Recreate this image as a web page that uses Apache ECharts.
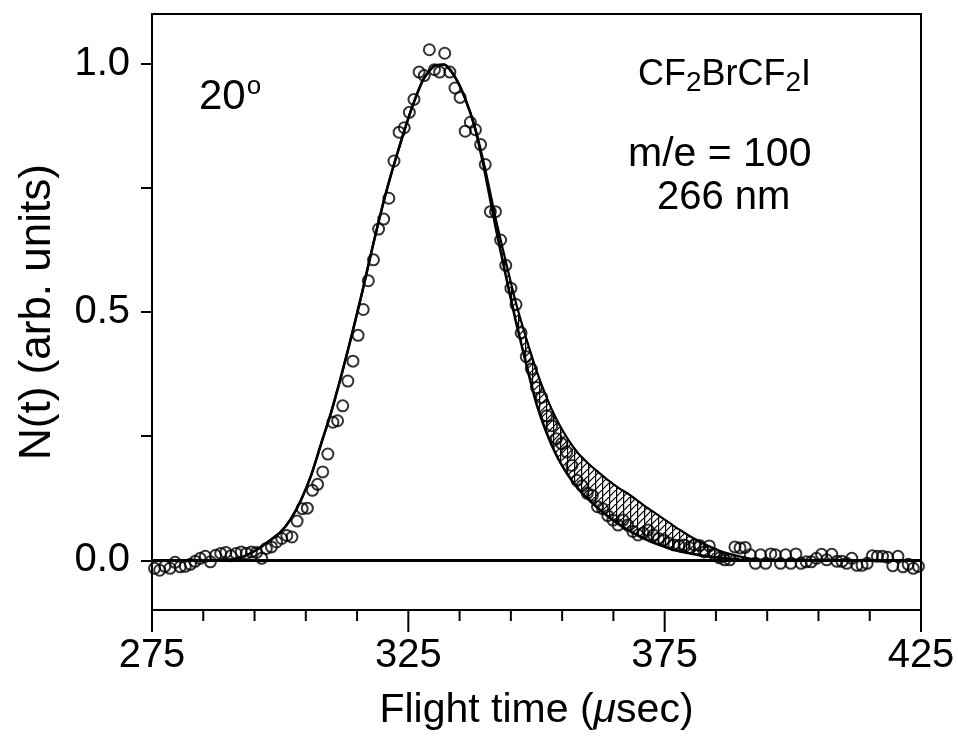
<!DOCTYPE html>
<html><head><meta charset="utf-8">
<script src="https://cdn.jsdelivr.net/npm/echarts@6/dist/echarts.min.js"></script>
<style>html,body{margin:0;padding:0;background:#fff}#c{width:958px;height:739px}</style>
</head><body><div id="c"></div>
<script>
// ---- data ----
const flightTime = [275.5,276.5,277.5,278.5,279.5,280.5,281.5,282.5,283.4,284.4,285.4,286.4,287.4,288.4,289.4,290.4,291.4,292.4,293.4,294.4,
295.4,296.4,297.3,298.3,299.3,300.3,301.3,302.3,303.3,304.3,305.3,306.3,307.3,308.3,309.3,310.3,311.2,312.2,313.2,314.2,
315.2,316.2,317.2,318.2,319.2,320.2,321.2,322.2,323.2,324.2,325.2,326.1,327.1,328.1,329.1,330.1,331.1,332.1,333.1,334.1,
335.1,336.1,337.1,338.1,339.1,340.0,341.0,342.0,343.0,344.0,345.0,346.0,347.0,348.0,349.0,350.0,351.0,352.0,353.0,353.9,
354.9,355.9,356.9,357.9,358.9,359.9,360.9,361.9,362.9,363.9,364.9,365.9,366.9,367.8,368.8,369.8,370.8,371.8,372.8,373.8,
374.8,375.8,376.8,377.8,378.8,379.8,380.8,381.8,382.7,383.7,384.7,385.7,386.7,387.7,388.7,389.7,390.7,391.7,392.7,393.7,
394.7,395.7,396.6,397.6,398.6,399.6,400.6,401.6,402.6,403.6,404.6,405.6,406.6,407.6,408.6,409.6,410.5,411.5,412.5,413.5,
414.5,415.5,416.5,417.5,418.5,419.5,420.5,421.5,422.5,423.5,424.5];
const signal = [-0.016,-0.020,-0.012,-0.016,-0.004,-0.013,-0.012,-0.008,-0.002,0.004,0.008,-0.003,0.010,0.014,0.016,0.009,0.014,0.017,0.014,0.017,
0.016,0.004,0.024,0.027,0.037,0.044,0.050,0.047,0.079,0.104,0.105,0.141,0.153,0.178,0.214,0.278,0.281,0.311,0.361,0.401,
0.453,0.505,0.563,0.605,0.667,0.687,0.729,0.804,0.862,0.871,0.902,0.928,0.983,0.976,1.028,0.988,0.983,1.021,0.983,0.951,
0.932,0.864,0.882,0.867,0.837,0.797,0.702,0.702,0.645,0.594,0.548,0.515,0.458,0.410,0.385,0.348,0.328,0.291,0.271,0.245,
0.235,0.218,0.191,0.161,0.150,0.135,0.131,0.108,0.104,0.090,0.081,0.071,0.081,0.071,0.058,0.051,0.055,0.061,0.051,0.044,
0.041,0.035,0.031,0.030,0.031,0.026,0.031,0.030,0.017,0.029,0.012,0.005,0.001,0.001,0.027,0.025,0.026,0.011,-0.006,0.011,
-0.006,0.013,0.011,-0.006,0.011,-0.006,0.013,-0.006,-0.003,-0.003,0.004,0.012,0.001,0.012,-0.002,-0.002,-0.006,0.004,-0.010,-0.010,
-0.006,0.009,0.008,0.008,0.006,-0.011,0.008,-0.013,-0.008,-0.016,-0.012];

const fitTime = [286,288,290,292,294,296,298,300,302,304,306,308,310,312,314,316,318,320,322,324,326,328,330,332,334,336,338,
340,342,344,346,348,350,352,354,356,358,360,362,364,366,368,370,372,374,376,378,380,382,384,386,388,390,392,394,396,398,400];
const fitFast = [0,0,0.001,0.004,0.013,0.025,0.040,0.056,0.082,0.120,0.170,0.235,0.300,0.375,0.455,0.540,0.630,0.715,0.790,0.858,0.920,0.970,0.995,0.998,0.975,0.932,0.870,
0.778,0.672,0.574,0.480,0.395,0.315,0.256,0.209,0.174,0.146,0.124,0.105,0.088,0.073,0.060,0.049,0.039,0.031,0.024,0.018,0.014,0.010,0.007,0.005,0.003,0.001,0,0,0,0,0];
const fitSlow = [0,0,0.001,0.004,0.013,0.025,0.040,0.056,0.082,0.120,0.170,0.235,0.300,0.375,0.455,0.540,0.630,0.715,0.790,0.858,0.920,0.970,0.995,0.998,0.975,0.932,0.872,
0.788,0.690,0.602,0.518,0.447,0.382,0.327,0.282,0.246,0.217,0.196,0.178,0.161,0.146,0.133,0.118,0.103,0.089,0.075,0.061,0.048,0.037,0.027,0.018,0.012,0.007,0.003,0.001,0,0,0];

const xMajorTicks = [275,325,375,425];
const xMinorTicks = [285,295,305,315,335,345,355,365,385,395,405,415];
const yTicks = [0,0.25,0.5,0.75,1.0];
const yLabelTicks = [0,0.5,1.0];
const X_MIN = 275, X_MAX = 425, Y_MIN = -0.1, Y_MAX = 1.1;

// ---- build ----
const FONT = "'Liberation Sans',Arial,Helvetica,sans-serif";
const pts = flightTime.map((t,i)=>[t, signal[i]]);
const fastPts = fitTime.map((t,i)=>[t, fitFast[i]]);
const slowPts = fitTime.map((t,i)=>[t, fitSlow[i]]);
// tick marks: [value, relative length] drawn in a thin strip grid under the plot
const tickMarks = xMajorTicks.map(v=>[v, 1]).concat(xMinorTicks.map(v=>[v, 0.5]));

const pc = document.createElement('canvas');
pc.width = 7; pc.height = 7;
const g = pc.getContext('2d');
g.strokeStyle = '#000'; g.lineWidth = 1.2;
g.beginPath(); g.moveTo(0.6,0); g.lineTo(0.6,7); g.stroke();
g.beginPath(); g.moveTo(-1,8); g.lineTo(8,-1); g.stroke();

const chart = echarts.init(document.getElementById('c'), null, {renderer:'canvas'});
chart.setOption({
  animation:false,
  backgroundColor:'#fff',
  grid:[
    {left:152,right:37,top:14,bottom:129,show:true,borderColor:'#000',borderWidth:2,backgroundColor:'transparent'},
    {left:152,right:37,top:610,height:22,show:false}
  ],
  xAxis:[{
    type:'value',gridIndex:0,min:X_MIN,max:X_MAX,position:'bottom',
    axisLine:{show:true,onZero:false,lineStyle:{color:'#000',width:2}},
    axisTick:{show:false},
    axisLabel:{customValues:xMajorTicks,color:'#000',fontSize:40,fontFamily:FONT,margin:26},
    splitLine:{show:false},
    name:'Flight time ({i|μ}sec)',nameLocation:'middle',nameGap:80,
    nameTextStyle:{color:'#000',fontSize:41,fontFamily:FONT,verticalAlign:'top',
      rich:{i:{fontStyle:'italic',fontSize:41,fontFamily:FONT,color:'#000'}}}
  },{
    type:'value',gridIndex:1,min:X_MIN,max:X_MAX,show:false
  }],
  yAxis:[{
    type:'value',gridIndex:0,min:Y_MIN,max:Y_MAX,
    axisLine:{show:true,onZero:false,lineStyle:{color:'#000',width:2}},
    axisTick:{show:true,customValues:yTicks,length:11,inside:false,lineStyle:{color:'#000',width:2}},
    axisLabel:{customValues:yLabelTicks,formatter:v=>v.toFixed(1),color:'#000',fontSize:40,fontFamily:FONT,margin:22},
    splitLine:{show:false},
    name:'N(t) (arb. units)',nameLocation:'middle',nameGap:92,nameRotate:90,
    nameTextStyle:{color:'#000',fontSize:44,fontFamily:FONT}
  },{
    type:'value',gridIndex:1,min:0,max:1,inverse:true,show:false
  }],
  series:[
    {type:'custom',name:'band',silent:true,z:1,data:[[fitTime[0],0]],
      renderItem:(params,api)=>{
        if (params.dataIndex !== 0) return null;
        const up = slowPts.map(p=>api.coord(p));
        const lo = fastPts.map(p=>api.coord(p)).reverse();
        return {type:'polygon',shape:{points:up.concat(lo)},
          style:{fill:{image:pc,repeat:'repeat'},stroke:null}};
      }},
    {type:'line',name:'fast',data:fastPts,showSymbol:false,smooth:0.2,
      lineStyle:{color:'#000',width:2.6},z:2},
    {type:'line',name:'slow',data:slowPts,showSymbol:false,smooth:0.2,
      lineStyle:{color:'#000',width:2.2},z:2},
    {type:'scatter',name:'data',data:pts,symbol:'circle',symbolSize:11,
      itemStyle:{color:'rgba(0,0,0,0)',borderColor:'#000',borderWidth:2},z:3,
      markLine:{silent:true,symbol:'none',label:{show:false},lineStyle:{color:'#000',width:3,type:'solid'},data:[{yAxis:0}]}},
    {type:'custom',name:'xticks',xAxisIndex:1,yAxisIndex:1,silent:true,clip:false,z:5,data:tickMarks,
      renderItem:(params,api)=>{
        const a = api.coord([api.value(0), 0]);
        const b = api.coord([api.value(0), api.value(1)]);
        return {type:'line',shape:{x1:a[0],y1:a[1]-1,x2:b[0],y2:b[1]},style:{stroke:'#000',lineWidth:2}};
      }}
  ],
  graphic:[
    {type:'text',left:199,top:74,style:{text:'20{s|o}',fill:'#000',font:'42px '+FONT,
      rich:{s:{fontSize:26,fontFamily:FONT,verticalAlign:'top',padding:[0,0,20,1]}}}},
    {type:'text',left:638,top:57,style:{text:'CF{b|2}BrCF{b|2}I',fill:'#000',font:'36px '+FONT,
      rich:{b:{fontSize:28,fontFamily:FONT,padding:[16,0,0,0]}}}},
    {type:'text',left:628,top:134,style:{text:'m/e = 100',fill:'#000',font:'41px '+FONT}},
    {type:'text',left:657,top:178,style:{text:'266 nm',fill:'#000',font:'40px '+FONT}}
  ]
});
</script></body></html>
